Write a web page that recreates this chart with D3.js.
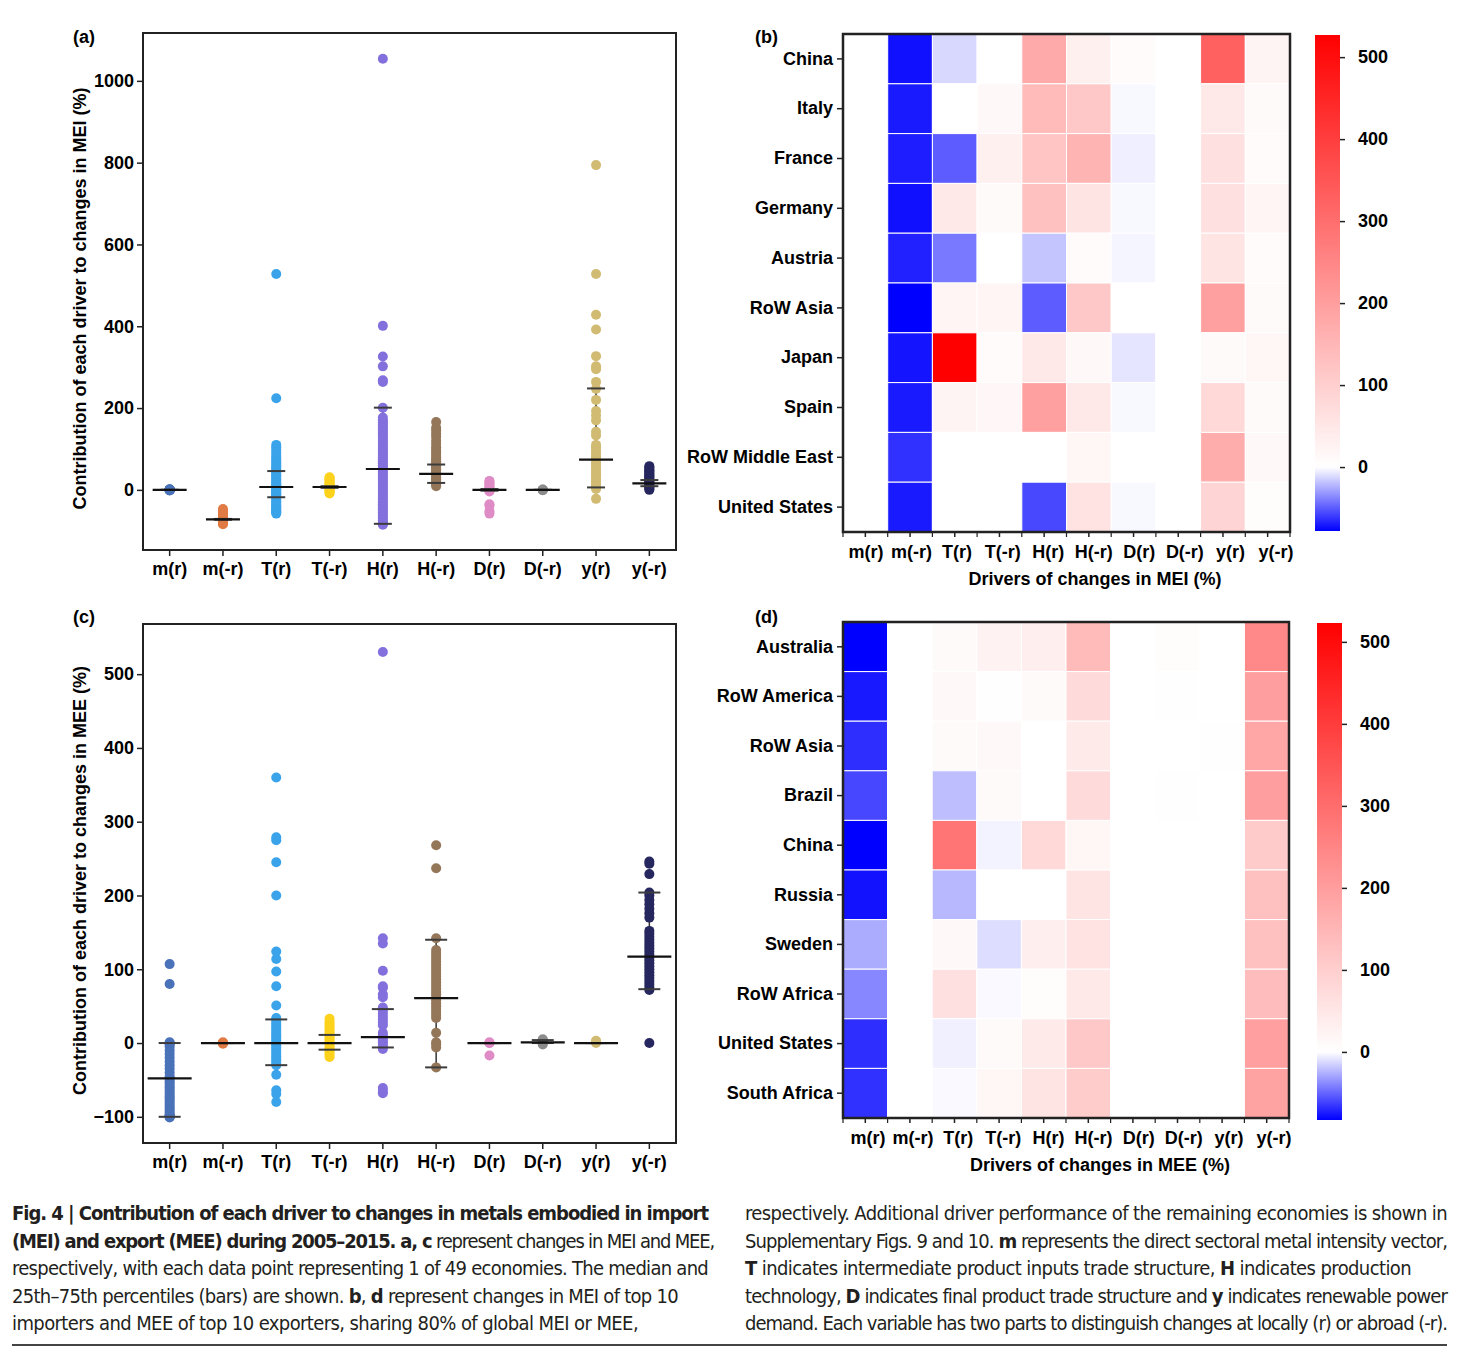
<!DOCTYPE html>
<html>
<head>
<meta charset="utf-8">
<script src="https://cdn.jsdelivr.net/npm/d3@7"></script>
<style>
  body { margin: 0; background: #fff; }
  text { font-family: "Liberation Sans", Arial, Helvetica, sans-serif; }
  .tk text { font-weight: bold; font-size: 18px; fill: #000; }
  .tk line { stroke: #222; stroke-width: 1.5; }
  .lbl { font-weight: bold; font-size: 18px; fill: #000; }
  .cap { font-family: "Liberation Sans Narrow", "DejaVu Sans Condensed", "DejaVu Sans", sans-serif;
         font-stretch: condensed; font-size: 20px; fill: #231f20; }
</style>
</head>
<body>
<svg id="fig" width="1482" height="1347"></svg>
<script>
// ---- categories ----
const drivers = ["m(r)", "m(-r)", "T(r)", "T(-r)", "H(r)", "H(-r)", "D(r)", "D(-r)", "y(r)", "y(-r)"];
const dotColors = ["#4a72b8", "#e07b45", "#3aa3ea", "#fdd21c", "#8370dd", "#947659", "#df8bc6", "#8c8c8c", "#d1ba72", "#27275f"];

// ---- panel (a): MEI, one value per economy ----
const meiMr  = [-1.5, -1, -0.5, 0, 0, 0, 0, 0, 0.5, 1, 1.5];
const meiMnr = [-84, -82, -80, -78, -77, -76, -75, -74, -73, -72, -72, -71, -70, -69, -67, -65, -62, -58, -54, -50, -47];
const meiTr  = [-58, -55, -52, -49, -46, -43, -40, -36, -32, -28, -24, -20, -17, -14, -11, -8, -5, -2, 1, 4, 7, 10, 13, 16, 20, 24, 28, 32, 36, 40, 44, 48, 52, 56, 60, 65, 70, 75, 80, 86, 92, 98, 104, 110, 224, 528];
const meiTnr = [-9, -6, -3, 0, 2, 4, 6, 8, 10, 12, 14, 17, 20, 23, 26, 29, 31];
const meiHr  = [-85, -83, -80, -75, -70, -65, -60, -55, -50, -45, -40, -35, -30, -25, -20, -15, -10, -5, 0, 5, 10, 15, 20, 25, 30, 35, 40, 45, 50, 55, 60, 65, 70, 75, 80, 85, 90, 95, 100, 105, 110, 115, 120, 125, 130, 135, 140, 145, 150, 155, 160, 165, 170, 177, 201, 264, 268, 302, 326, 401, 1054];
const meiHnr = [9, 14, 18, 22, 26, 30, 34, 38, 42, 46, 50, 54, 58, 62, 66, 70, 75, 80, 86, 92, 98, 104, 112, 120, 130, 137, 145, 152, 166];
const meiDr  = [-58, -52, -38, -35, -4, -2, 0, 0, 2, 5, 8, 12, 16, 19, 22];
const meiDnr = [-1, 0, 0, 1];
const meiYr  = [-22, 2, 6, 10, 15, 20, 26, 32, 38, 44, 50, 56, 62, 68, 74, 80, 86, 92, 98, 104, 110, 133, 142, 170, 182, 193, 220, 247, 264, 295, 302, 327, 392, 428, 528, 794];
const meiYnr = [0, 3, 6, 9, 12, 15, 18, 21, 24, 27, 30, 33, 36, 39, 42, 45, 48, 51, 55, 58];
const meiMedian = [0, -72, 7, 7, 51, 39, 0, 0, 74, 16];
const meiQ1     = [0, -73, -18, 5, -83, 17, -2, 0, 6, 9];
const meiQ3     = [0, -71, 46, 9, 201, 62, 2, 0, 248, 24];
const meiTicks  = [0, 200, 400, 600, 800, 1000];

// ---- panel (c): MEE ----
const meeMr  = [-101, -100, -100, -99, -98, -96, -93, -90, -87, -84, -81, -78, -75, -72, -69, -66, -63, -60, -57, -54, -51, -48, -45, -40, -35, -30, -25, -20, -15, -10, -5, -2, 0, 1, 80, 107];
const meeMnr = [-1, 0, 0, 0, 1];
const meeTr  = [-80, -69, -64, -43, -30, -27, -24, -21, -18, -15, -12, -9, -6, -3, 0, 3, 6, 9, 12, 15, 18, 21, 24, 27, 30, 34, 51, 77, 97, 114, 124, 200, 245, 275, 279, 360];
const meeTnr = [-19, -16, -13, -10, -7, -4, -1, 2, 5, 8, 11, 14, 17, 20, 23, 26, 29, 33];
const meeHr  = [-68, -65, -61, -8, -5, -2, 1, 4, 7, 10, 14, 24, 28, 32, 36, 40, 44, 48, 62, 66, 75, 77, 98, 135, 142, 530];
const meeHnr = [-33, -6, -2, 1, 14, 34, 38, 42, 46, 50, 54, 58, 62, 66, 70, 74, 78, 82, 86, 90, 94, 98, 102, 106, 110, 114, 118, 122, 126, 142, 237, 268];
const meeDr  = [-17, 0, 0, 1];
const meeDnr = [-2, 0, 1, 2, 3, 4, 5];
const meeYr  = [0, 1, 2, 3];
const meeYnr = [0, 72, 76, 80, 84, 88, 92, 96, 100, 104, 108, 112, 116, 120, 124, 128, 132, 136, 140, 144, 148, 152, 170, 176, 182, 188, 194, 200, 204, 229, 243, 246];
const meeMedian = [-48, 0, 0, 0, 8, 61, 0, 1, 0, 117];
const meeQ1     = [-100, 0, -30, -9, -6, -33, 0, 0, 0, 73];
const meeQ3     = [0, 0, 32, 11, 46, 140, 0, 4, 0, 204];
const meeTicks  = [-100, 0, 100, 200, 300, 400, 500];

// ---- panel (b): top 10 importers, MEI drivers (%) ----
const importers = ["China", "Italy", "France", "Germany", "Austria", "RoW Asia", "Japan", "Spain", "RoW Middle East", "United States"];
const meiHeat = [
  [0, -73, -12, 0, 176, 31, 8, 0, 329, 23],
  [0, -70, 1, 14, 143, 114, -2, 0, 48, 10],
  [0, -69, -50, 31, 122, 155, -5, 0, 64, 8],
  [0, -73, 48, 10, 130, 56, -2, 0, 64, 21],
  [0, -68, -41, 0, -18, 8, -3, 0, 56, 8],
  [0, -78, 20, 21, -50, 114, 0, 0, 197, 10],
  [0, -72, 527, 8, 48, 14, -8, 0, 10, 19],
  [0, -70, 23, 16, 197, 48, -2, 0, 81, 10],
  [0, -63, 0, 0, 0, 19, 0, 0, 172, 14],
  [0, -70, 0, 0, -56, 60, -2, 0, 89, 6]
];
const meiColorDomain = [-78, 527];

// ---- panel (d): top 10 exporters, MEE drivers (%) ----
const exporters = ["Australia", "RoW America", "RoW Asia", "Brazil", "China", "Russia", "Sweden", "RoW Africa", "United States", "South Africa"];
const meeHeat = [
  [-100, 0, 10, 27, 35, 141, 0, 6, 0, 245],
  [-75, 0, 14, 2, 10, 76, 0, 2, 1, 199],
  [-68, 0, 10, 14, 0, 43, 0, 1, 2, 182],
  [-60, 0, -21, 10, 0, 76, 0, 2, 0, 199],
  [-100, 0, 285, -4, 80, 18, 0, 1, 1, 109],
  [-77, 0, -23, 0, 0, 55, 0, 1, 0, 129],
  [-27, 0, 14, -11, 35, 60, 0, 0, 0, 129],
  [-39, 0, 63, -2, 6, 47, 0, 1, 0, 137],
  [-68, 0, -5, 10, 43, 113, 1, 1, 0, 197],
  [-67, 0, -2, 18, 55, 105, 0, 0, 0, 190]
];
const meeColorDomain = [-83, 523];
const colorbarTicks = [0, 100, 200, 300, 400, 500];

// ---- caption ----
const capLeft = [
  [["Fig. 4 | Contribution of each driver to changes in metals embodied in import", 1]],
  [["(MEI) and export (MEE) during 2005–2015. a, c", 1], [" represent changes in MEI and MEE,", 0]],
  [["respectively, with each data point representing 1 of 49 economies. The median and", 0]],
  [["25th–75th percentiles (bars) are shown. ", 0], ["b", 1], [", ", 0], ["d", 1], [" represent changes in MEI of top 10", 0]],
  [["importers and MEE of top 10 exporters, sharing 80% of global MEI or MEE,", 0]]
];
const capRight = [
  [["respectively. Additional driver performance of the remaining economies is shown in", 0]],
  [["Supplementary Figs. 9 and 10. ", 0], ["m", 1], [" represents the direct sectoral metal intensity vector,", 0]],
  [["T", 1], [" indicates intermediate product inputs trade structure, ", 0], ["H", 1], [" indicates production", 0]],
  [["technology, ", 0], ["D", 1], [" indicates final product trade structure and ", 0], ["y", 1], [" indicates renewable power", 0]],
  [["demand. Each variable has two parts to distinguish changes at locally (r) or abroad (-r).", 0]]
];

const svg = d3.select("#fig");
const defs = svg.append("defs");

function stripPanel(o) {
  const x = d3.scaleBand().domain(drivers).range([o.x0, o.x1]);
  const y = d3.scaleLinear().domain(o.yDomain).range([o.y1, o.y0]);
  const cx = d => x(d) + x.bandwidth() / 2;
  const g = svg.append("g");

  g.append("g").attr("class", "tk").attr("transform", `translate(${o.x0},0)`)
    .call(d3.axisLeft(y).tickValues(o.yTicks).tickFormat(d3.format("d")).tickSize(6).tickPadding(3))
    .call(a => a.select(".domain").remove());
  g.append("g").attr("class", "tk").attr("transform", `translate(0,${o.y1})`)
    .call(d3.axisBottom(x).tickSize(6).tickPadding(6))
    .call(a => a.select(".domain").remove());

  const stats = drivers.map((d, i) => ({ d, med: o.med[i], q1: o.q1[i], q3: o.q3[i] }));

  g.selectAll(".whisk").data(stats).join("line").attr("class", "whisk")
    .attr("x1", s => cx(s.d)).attr("x2", s => cx(s.d))
    .attr("y1", s => y(s.q1)).attr("y2", s => y(s.q3))
    .attr("stroke", "#333").attr("stroke-width", 1.5);

  const dots = o.points.flatMap((arr, i) => arr.map(v => ({ d: drivers[i], i, v })));
  g.selectAll(".dot").data(dots).join("circle").attr("class", "dot")
    .attr("cx", p => cx(p.d)).attr("cy", p => y(p.v)).attr("r", 5)
    .attr("fill", p => dotColors[p.i]);

  const caps = stats.flatMap(s => [{ d: s.d, v: s.q1 }, { d: s.d, v: s.q3 }]);
  g.selectAll(".capbar").data(caps).join("line").attr("class", "capbar")
    .attr("x1", c => cx(c.d) - o.capW / 2).attr("x2", c => cx(c.d) + o.capW / 2)
    .attr("y1", c => y(c.v)).attr("y2", c => y(c.v))
    .attr("stroke", "#3c3c3c").attr("stroke-width", 2);

  g.selectAll(".med").data(stats).join("line").attr("class", "med")
    .attr("x1", s => cx(s.d) - o.medW / 2).attr("x2", s => cx(s.d) + o.medW / 2)
    .attr("y1", s => y(s.med)).attr("y2", s => y(s.med))
    .attr("stroke", "#111").attr("stroke-width", 2.2);

  g.append("rect").attr("x", o.x0).attr("y", o.y0)
    .attr("width", o.x1 - o.x0).attr("height", o.y1 - o.y0)
    .attr("fill", "none").attr("stroke", "#222").attr("stroke-width", 2);

  g.append("text").attr("class", "lbl")
    .attr("transform", `translate(${o.x0 - 63},${(o.y0 + o.y1) / 2 + o.labelShift}) rotate(-90)`)
    .attr("text-anchor", "middle").attr("dominant-baseline", "central")
    .text(o.yLabel);
  g.append("text").attr("class", "lbl").attr("x", 73).attr("y", o.tagY).text(o.tag);
}

function heatPanel(o) {
  const x = d3.scaleBand().domain(drivers).range([o.x0, o.x1]);
  const y = d3.scaleBand().domain(o.rows).range([o.y0, o.y1]);
  const xl = d3.scalePoint().domain(drivers).range(o.labelRange);
  const color = d3.scaleLinear().domain([o.cDomain[0], 0, o.cDomain[1]])
    .range(["#0000ff", "#ffffff", "#ff0000"]).clamp(true);
  const g = svg.append("g");

  const cells = o.values.flatMap((row, r) => row.map((v, c) => ({ row: o.rows[r], col: drivers[c], v })));
  g.selectAll(".cell").data(cells).join("rect").attr("class", "cell")
    .attr("x", c => x(c.col)).attr("y", c => y(c.row))
    .attr("width", x.bandwidth()).attr("height", y.bandwidth())
    .attr("fill", c => color(c.v)).attr("stroke", "#fff").attr("stroke-width", 1);

  g.append("g").attr("class", "tk").attr("transform", `translate(${o.x0},0)`)
    .call(d3.axisLeft(y).tickSize(6).tickPadding(4))
    .call(a => a.select(".domain").remove());
  // ticks at cell centres and edges, labels placed along their own point scale
  g.append("g").attr("class", "tk").attr("transform", `translate(0,${o.y1})`)
    .call(d3.axisBottom(x).tickSize(5).tickFormat(""))
    .call(a => a.select(".domain").remove());
  g.selectAll(".minor").data(d3.range(drivers.length + 1)).join("line").attr("class", "minor")
    .attr("x1", k => o.x0 + k * x.step()).attr("x2", k => o.x0 + k * x.step())
    .attr("y1", o.y1).attr("y2", o.y1 + 5)
    .attr("stroke", "#222").attr("stroke-width", 1.2);
  g.selectAll(".xlab").data(drivers).join("text").attr("class", "lbl xlab")
    .attr("x", d => xl(d)).attr("y", o.y1 + 26)
    .attr("text-anchor", "middle").text(d => d);

  g.append("rect").attr("x", o.x0).attr("y", o.y0)
    .attr("width", o.x1 - o.x0).attr("height", o.y1 - o.y0)
    .attr("fill", "none").attr("stroke", "#222").attr("stroke-width", 2.5);

  g.append("text").attr("class", "lbl").attr("x", o.titleX).attr("y", o.y1 + 53)
    .attr("text-anchor", "middle").text(o.xLabel);
  g.append("text").attr("class", "lbl").attr("x", 755).attr("y", o.tagY).text(o.tag);

  // colour bar
  const cy = d3.scaleLinear().domain(o.cDomain).range([o.cb.y1, o.cb.y0]);
  const frac = (0 - o.cDomain[0]) / (o.cDomain[1] - o.cDomain[0]);
  const grad = defs.append("linearGradient").attr("id", o.id)
    .attr("x1", 0).attr("y1", 1).attr("x2", 0).attr("y2", 0);
  grad.selectAll("stop").data([[0, "#0000ff"], [frac, "#ffffff"], [1, "#ff0000"]]).join("stop")
    .attr("offset", s => s[0]).attr("stop-color", s => s[1]);
  g.append("rect").attr("x", o.cb.x0).attr("y", cy(o.cDomain[1]))
    .attr("width", o.cb.x1 - o.cb.x0).attr("height", cy(o.cDomain[0]) - cy(o.cDomain[1]))
    .attr("fill", `url(#${o.id})`);
  g.append("g").attr("class", "tk").attr("transform", `translate(${o.cb.x1},0)`)
    .call(d3.axisRight(cy).tickValues(colorbarTicks).tickSize(5).tickPadding(13))
    .call(a => a.select(".domain").remove());
}

stripPanel({
  x0: 143, x1: 676, y0: 33, y1: 550, yDomain: [-147, 1117], yTicks: meiTicks,
  points: [meiMr, meiMnr, meiTr, meiTnr, meiHr, meiHnr, meiDr, meiDnr, meiYr, meiYnr],
  med: meiMedian, q1: meiQ1, q3: meiQ3, medW: 34, capW: 18, labelShift: 7, tagY: 43,
  yLabel: "Contribution of each driver to changes in MEI (%)", tag: "(a)"
});
stripPanel({
  x0: 143, x1: 676, y0: 624, y1: 1143, yDomain: [-135.5, 568], yTicks: meeTicks,
  points: [meeMr, meeMnr, meeTr, meeTnr, meeHr, meeHnr, meeDr, meeDnr, meeYr, meeYnr],
  med: meeMedian, q1: meeQ1, q3: meeQ3, medW: 44, capW: 22, labelShift: -3, tagY: 623,
  yLabel: "Contribution of each driver to changes in MEE (%)", tag: "(c)"
});
heatPanel({
  id: "cbB", x0: 843, x1: 1290, y0: 34, y1: 532, rows: importers, values: meiHeat,
  cDomain: meiColorDomain, cb: { x0: 1315, x1: 1340, y0: 35, y1: 531 },
  labelRange: [866, 1276], titleX: 1095, tagY: 43,
  xLabel: "Drivers of changes in MEI (%)", tag: "(b)"
});
heatPanel({
  id: "cbD", x0: 843, x1: 1289, y0: 622, y1: 1118, rows: exporters, values: meeHeat,
  cDomain: meeColorDomain, cb: { x0: 1317, x1: 1342, y0: 623, y1: 1120 },
  labelRange: [868, 1274], titleX: 1100, tagY: 623,
  xLabel: "Drivers of changes in MEE (%)", tag: "(d)"
});

// caption block, each line stretched to the reference line width
function caption(lines, x, widths) {
  lines.forEach((segs, i) => {
    const t = svg.append("text").attr("class", "cap")
      .attr("x", x).attr("y", 1220 + i * 27.5);
    segs.forEach(s => t.append("tspan").attr("font-weight", s[1] ? "bold" : "normal").text(s[0]));
    const str = segs.map(s => s[0]).join("");
    const natural = t.node().getComputedTextLength();
    const diff = widths[i] - natural;
    if (diff < 0) t.attr("letter-spacing", diff / str.length);
    else t.attr("word-spacing", diff / (str.split(" ").length - 1));
  });
}
caption(capLeft, 12, [696, 702, 696, 666, 626]);
caption(capRight, 745, [702, 702, 666, 702, 702]);
svg.append("line").attr("x1", 12).attr("x2", 1447).attr("y1", 1345).attr("y2", 1345)
  .attr("stroke", "#444").attr("stroke-width", 2);
</script>
</body>
</html>
